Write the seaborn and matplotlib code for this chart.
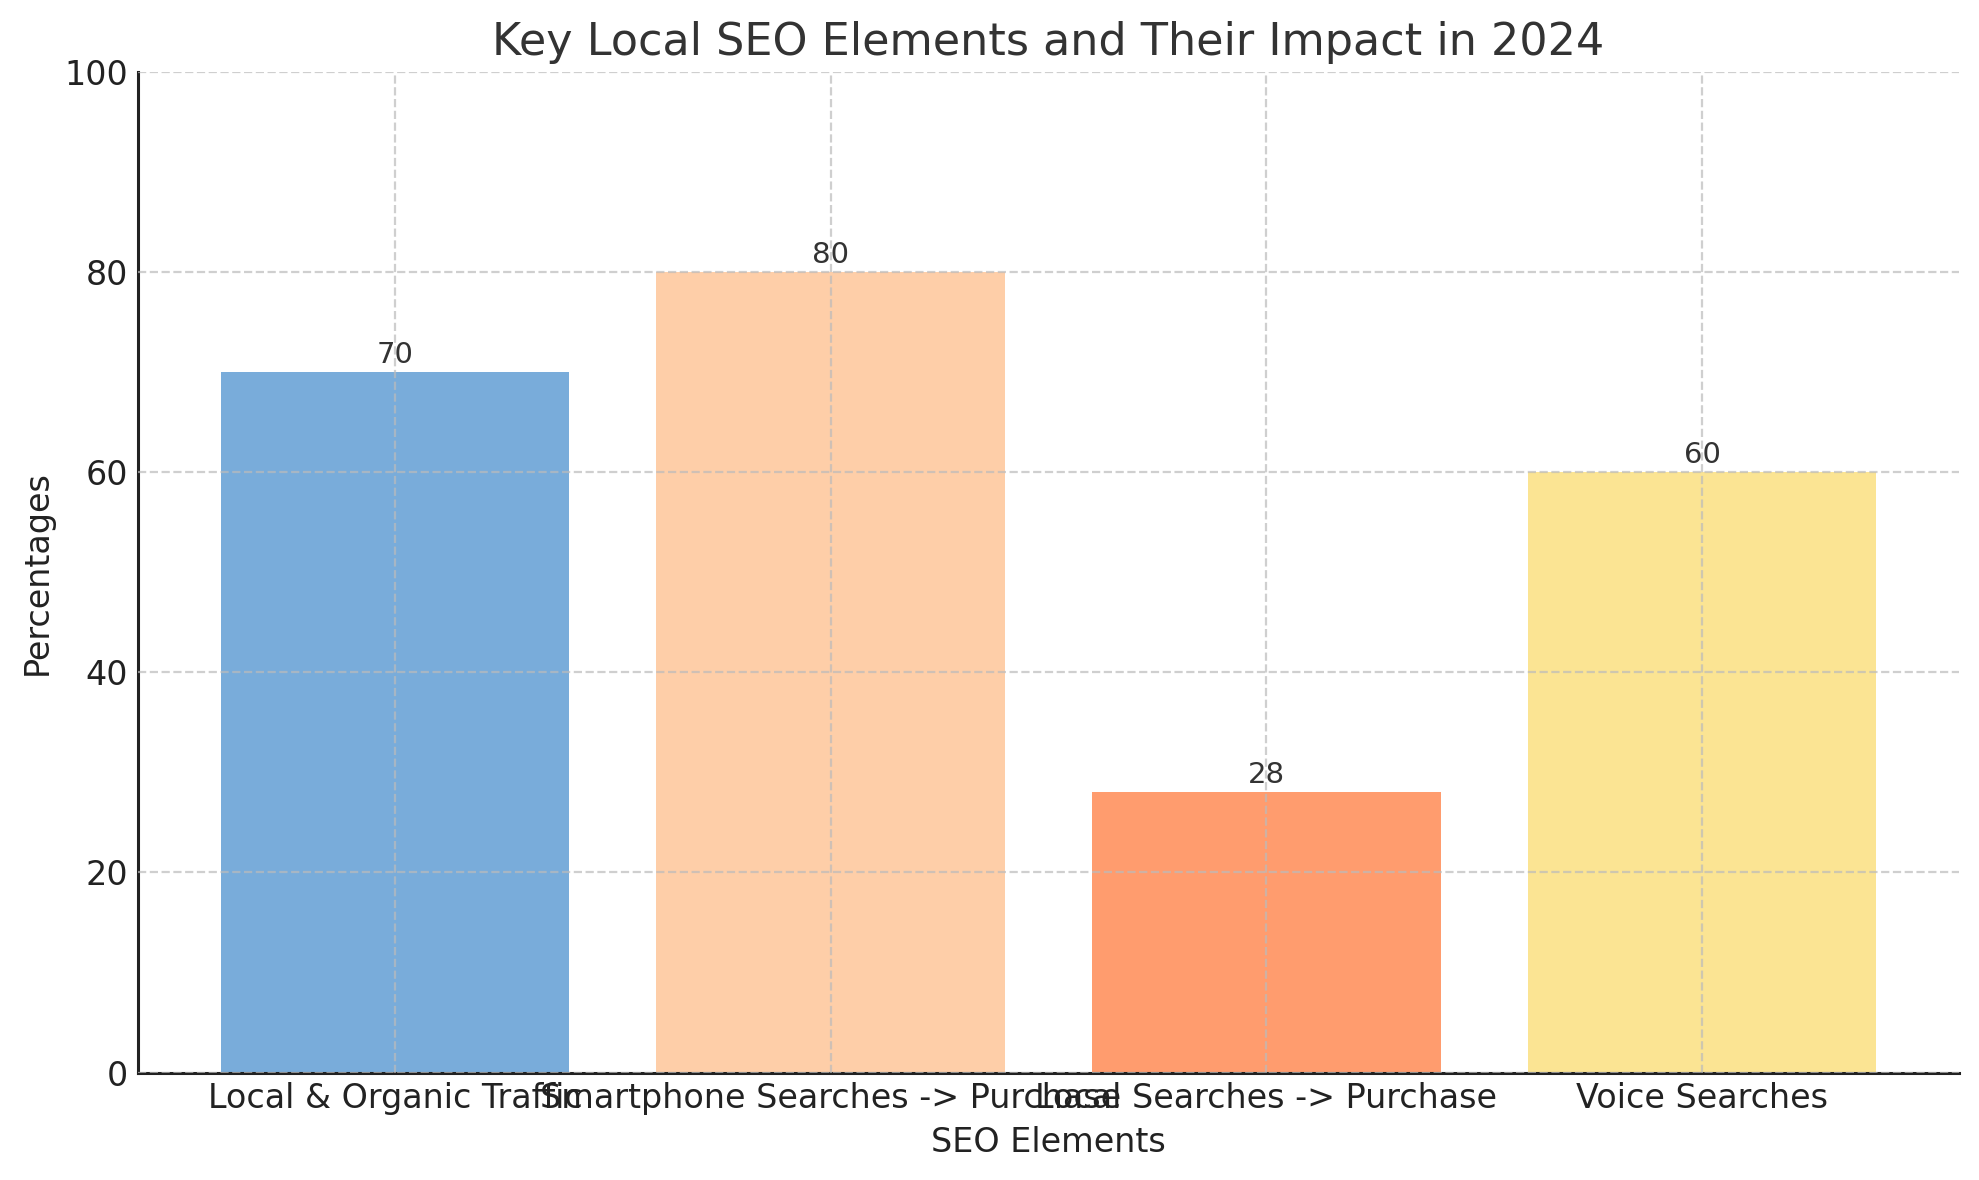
import matplotlib
matplotlib.use("Agg")
import matplotlib.pyplot as plt
import seaborn as sns
import pandas as pd

categories = ["Local & Organic Traffic", "Smartphone Searches -> Purchase",
              "Local Searches -> Purchase", "Voice Searches"]
values = [70, 80, 28, 60]
colors = ["#79ACDA", "#FECEA8", "#FF9C6E", "#FBE493"]

df = pd.DataFrame({"SEO Elements": categories, "Percentages": values})

sns.set_style("white")
plt.rcParams['font.family'] = ['DejaVu Sans']

fig = plt.figure(figsize=(9.895, 5.9), dpi=200)
ax = fig.add_axes([0.0697, 0.091, 0.9203, 0.848])

sns.barplot(data=df, x="SEO Elements", y="Percentages", hue="SEO Elements",
            palette=colors, legend=False, width=0.8, saturation=1,
            linewidth=0, ax=ax)

for i, v in enumerate(values):
    ax.text(i, v + 0.3, f"{v}", ha="center", va="bottom", fontsize=10.5, color="#333333")

ax.set_ylim(0, 100)
ax.set_xlim(-0.59, 3.59)
ax.set_title("Key Local SEO Elements and Their Impact in 2024", fontsize=16, color="#333333")
ax.set_xlabel("SEO Elements", fontsize=12, color="#222222")
ax.set_ylabel("Percentages", fontsize=12, color="#222222")
ax.tick_params(axis="both", labelsize=12, direction="in", length=4, width=1, colors="#222222")
ax.set_axisbelow(False)
ax.grid(True, linestyle="--", color="#bbbbbb", alpha=0.7, linewidth=0.8)
for s in ["top", "right"]:
    ax.spines[s].set_visible(False)
for s in ["left", "bottom"]:
    ax.spines[s].set_color("#222222")
    ax.spines[s].set_linewidth(1.1)

fig.savefig("out.png", dpi=200)
